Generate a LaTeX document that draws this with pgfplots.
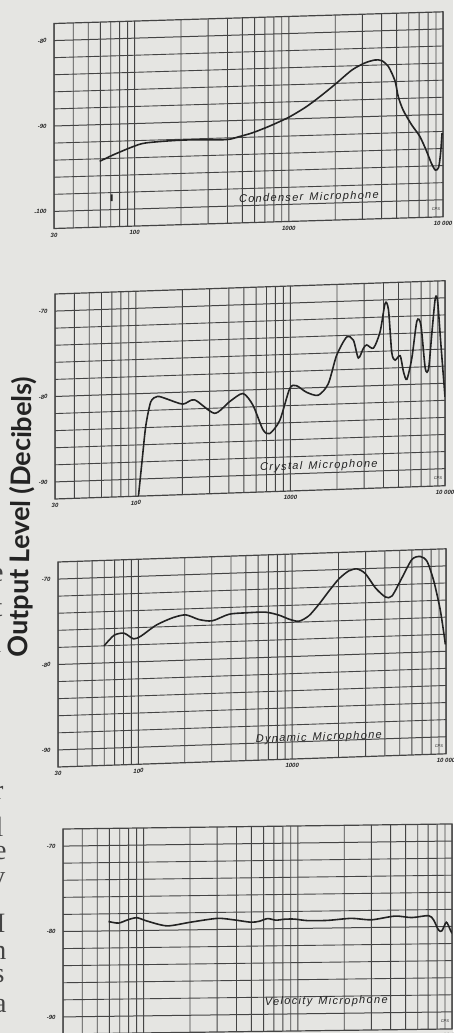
\documentclass[border=0pt]{standalone}
\usepackage{fontspec}
\setmainfont{Liberation Sans}
\newfontfamily\labfont{Lato}
\newfontfamily\serif{Liberation Serif}
\newfontfamily\hand{Liberation Sans}[LetterSpace=12]
\newfontfamily\tickf{Liberation Sans}
\usepackage{pgfplots}
\pgfplotsset{compat=1.18}
\definecolor{paper}{RGB}{229,229,226}
\definecolor{ink}{RGB}{35,35,35}
\definecolor{gridc}{RGB}{68,68,68}
\tikzset{
  mlabel/.style={font=\hand\fontsize{11}{11}\selectfont\itshape, text=ink},
  cpslab/.style={font=\tickf\fontsize{4}{4}\selectfont\itshape, text=ink},
}
\begin{document}
\begin{tikzpicture}
\useasboundingbox (0pt,0pt) rectangle (453pt,1033pt);
\clip (0pt,0pt) rectangle (453pt,1033pt);
\fill[paper] (0pt,0pt) rectangle (453pt,1033pt);

% ---------------- Condenser
\begin{scope}[cm={1,0.030,0,1,(54pt,804.5pt)}]
\begin{axis}[
    scale only axis, width=389pt, height=205pt,
    at={(0pt,0pt)}, anchor=south west,
    xmode=log, xmin=30, xmax=10000,
    xtick={30,100,1000,10000},
    xticklabels={30,100,1000,10 000},
    minor xtick={40,50,60,70,80,90,200,300,400,500,600,700,800,900,2000,3000,4000,5000,6000,7000,8000,9000},
    grid=both,
    major grid style={draw=gridc, line width=1.0pt},
    minor grid style={draw=gridc, line width=0.9pt},
    major tick length=0pt, minor tick length=0pt,
    axis line style={draw=gridc, line width=1.2pt},
    tick label style={font=\tickf\fontsize{6}{6}\selectfont\itshape\bfseries, text=ink},
    xticklabel style={yshift=-1pt},
    yticklabel style={xshift=-4pt},
    ymin=-102, ymax=-78,
    ytick={-100,-90,-80}, yticklabels={-100,-90,-80},
    minor ytick={-98,-96,-94,-92,-88,-86,-84,-82}]
\addplot[draw=ink, line width=1.6pt, smooth, tension=0.45] coordinates {
(59.4,-94.3) (72.4,-93.6) (97.5,-92.7) (119,-92.3) (205,-92.1) (390,-92.2)
(475,-91.9) (580,-91.5) (743,-90.8) (1000,-89.8) (1281,-88.7) (1563,-87.6)
(2000,-86.1) (2563,-84.5) (3125,-83.7) (3625,-83.4) (4000,-83.5) (4419,-84.2)
(4880,-85.9) (5130,-87.8) (5525,-89.4) (6250,-91.1) (7070,-92.5) (7800,-94.2)
(8410,-95.7) (8920,-96.5) (9370,-96.2) (9650,-94.5) (9860,-92.2) };
\addplot[draw=ink, line width=2pt] coordinates {(71,-98.2) (71,-99.0)};
\node[mlabel] at (axis cs:1350,-99.3) {Condenser\hspace{6pt}Microphone};
\node[cpslab] at (axis cs:9000,-101.1) {CPS};
\end{axis}
\end{scope}

% ---------------- Crystal
\begin{scope}[cm={1,0.034,0,1,(55pt,534pt)}]
\begin{axis}[
    scale only axis, width=390pt, height=205pt,
    at={(0pt,0pt)}, anchor=south west,
    xmode=log, xmin=30, xmax=10000,
    xtick={30,100,1000,10000},
    xticklabels={30,100,1000,10 000},
    minor xtick={40,50,60,70,80,90,200,300,400,500,600,700,800,900,2000,3000,4000,5000,6000,7000,8000,9000},
    grid=both,
    major grid style={draw=gridc, line width=1.0pt},
    minor grid style={draw=gridc, line width=0.9pt},
    major tick length=0pt, minor tick length=0pt,
    axis line style={draw=gridc, line width=1.2pt},
    tick label style={font=\tickf\fontsize{6}{6}\selectfont\itshape\bfseries, text=ink},
    xticklabel style={yshift=-1pt},
    yticklabel style={xshift=-4pt},
    ymin=-92, ymax=-68,
    ytick={-90,-80,-70}, yticklabels={-90,-80,-70},
    minor ytick={-88,-86,-84,-82,-78,-76,-74,-72}]
\addplot[draw=ink, line width=1.6pt, smooth, tension=0.45] coordinates {
(104,-92) (110,-87.7) (116,-83.8) (125,-81.0) (138,-80.4) (157,-80.7)
(201,-81.4) (240,-80.95) (323,-82.6) (404,-81.3) (493,-80.4) (572,-81.8)
(664,-84.7) (734,-85.2) (853,-83.7) (990,-80.0) (1094,-79.7) (1270,-80.5)
(1513,-80.9) (1757,-79.6) (1991,-76.3) (2312,-74.2) (2555,-74.6) (2750,-76.7)
(2962,-75.6) (3116,-75.2) (3445,-75.6) (3805,-73.7) (4100,-70.4) (4310,-71.2)
(4525,-76.2) (4755,-77.1) (5125,-76.6) (5390,-78.5) (5665,-79.4) (6105,-76.9)
(6580,-72.6) (6985,-73.1) (7455,-78.2) (7835,-78.2) (8240,-73.9) (8655,-70.0)
(8960,-70.4) (9420,-75.6) (10000,-81.6) };
\node[mlabel] at (axis cs:1528,-89.2) {Crystal\hspace{6pt}Microphone};
\node[cpslab] at (axis cs:9000,-91.1) {CPS};
\end{axis}
\end{scope}

% ---------------- Dynamic
\begin{scope}[cm={1,0.034,0,1,(58pt,266pt)}]
\begin{axis}[
    scale only axis, width=388pt, height=205pt,
    at={(0pt,0pt)}, anchor=south west,
    xmode=log, xmin=30, xmax=10000,
    xtick={30,100,1000,10000},
    xticklabels={30,100,1000,10 000},
    minor xtick={40,50,60,70,80,90,200,300,400,500,600,700,800,900,2000,3000,4000,5000,6000,7000,8000,9000},
    grid=both,
    major grid style={draw=gridc, line width=1.0pt},
    minor grid style={draw=gridc, line width=0.9pt},
    major tick length=0pt, minor tick length=0pt,
    axis line style={draw=gridc, line width=1.2pt},
    tick label style={font=\tickf\fontsize{6}{6}\selectfont\itshape\bfseries, text=ink},
    xticklabel style={yshift=-1pt},
    yticklabel style={xshift=-4pt},
    ymin=-92, ymax=-68,
    ytick={-90,-80,-70}, yticklabels={-90,-80,-70},
    minor ytick={-88,-86,-84,-82,-78,-76,-74,-72}]
\addplot[draw=ink, line width=1.6pt, smooth, tension=0.45] coordinates {
(59.8,-78.0) (69.5,-76.8) (80.7,-76.6) (93,-77.3) (104,-77.0) (130,-75.8)
(166,-75.0) (203,-74.7) (248,-75.3) (302,-75.5) (388,-74.8) (498,-74.7)
(671,-74.7) (819,-75.1) (951,-75.6) (1104,-75.9) (1282,-75.3) (1490,-74.0)
(1730,-72.5) (2010,-71.1) (2333,-70.2) (2643,-70.0) (2994,-70.6) (3478,-72.3)
(4038,-73.4) (4460,-73.3) (5178,-71.2) (6012,-69.1) (6812,-68.8) (7530,-69.4)
(8320,-71.7) (9190,-75.2) (9910,-79.2) };
\node[mlabel] at (axis cs:1490,-89.6) {Dynamic\hspace{6pt}Microphone};
\node[cpslab] at (axis cs:9000,-91.1) {CPS};
\end{axis}
\end{scope}

% ---------------- Velocity
\begin{scope}[cm={1,0.013,0,1,(63pt,-1pt)}]
\begin{axis}[
    scale only axis, width=389pt, height=205pt,
    at={(0pt,0pt)}, anchor=south west,
    xmode=log, xmin=30, xmax=10000,
    xtick={30,100,1000,10000},
    xticklabels={30,100,1000,10 000},
    minor xtick={40,50,60,70,80,90,200,300,400,500,600,700,800,900,2000,3000,4000,5000,6000,7000,8000,9000},
    grid=both,
    major grid style={draw=gridc, line width=1.0pt},
    minor grid style={draw=gridc, line width=0.9pt},
    major tick length=0pt, minor tick length=0pt,
    axis line style={draw=gridc, line width=1.2pt},
    tick label style={font=\tickf\fontsize{6}{6}\selectfont\itshape\bfseries, text=ink},
    xticklabel style={yshift=-1pt},
    yticklabel style={xshift=-4pt},
    ymin=-92, ymax=-68,
    ytick={-90,-80,-70}, yticklabels={-90,-80,-70},
    minor ytick={-88,-86,-84,-82,-78,-76,-74,-72}]
\addplot[draw=ink, line width=1.6pt, smooth, tension=0.45] coordinates {
(59.2,-78.9) (68.7,-79.1) (79.8,-78.7) (90.6,-78.5) (105,-78.9) (142,-79.5)
(202,-79.1) (301,-78.7) (386,-78.9) (496,-79.2) (562,-79.1) (637,-78.8)
(722,-79.0) (819,-78.9) (951,-78.9) (1161,-79.1) (1569,-79.1) (2226,-78.9)
(3005,-79.1) (4268,-78.7) (5480,-78.9) (7045,-78.7) (7590,-79.2) (8180,-80.4)
(8600,-80.5) (9190,-79.5) (9750,-80.4) (10000,-80.8) };
\node[mlabel] at (axis cs:1530,-88.6) {Velocity\hspace{6pt}Microphone};
\node[cpslab] at (axis cs:9000,-91.1) {CPS};
\end{axis}
\end{scope}

% ---------------- axis title
\node[rotate=89, font=\labfont\bfseries\fontsize{27}{27}\selectfont, text=ink] at (21.5pt,516pt) {Output Level (Decibels)};

% ---------------- fragments of the neighbouring column
\begin{scope}[every node/.style={anchor=base east, font=\serif\fontsize{28}{28}\selectfont, text=ink!85}]
\node at (7pt,451pt) {e};
\node at (6pt,416pt) {t};
\node at (5pt,380pt) {l};
\node at (7pt,233pt) {r};
\node at (7pt,196pt) {l};
\node at (10pt,173pt) {e};
\node at (9pt,147pt) {y};
\node at (9pt,100pt) {H};
\node at (10pt,73pt) {n};
\node at (8pt,50pt) {s};
\node at (10pt,20pt) {a};
\end{scope}
\end{tikzpicture}
\end{document}
